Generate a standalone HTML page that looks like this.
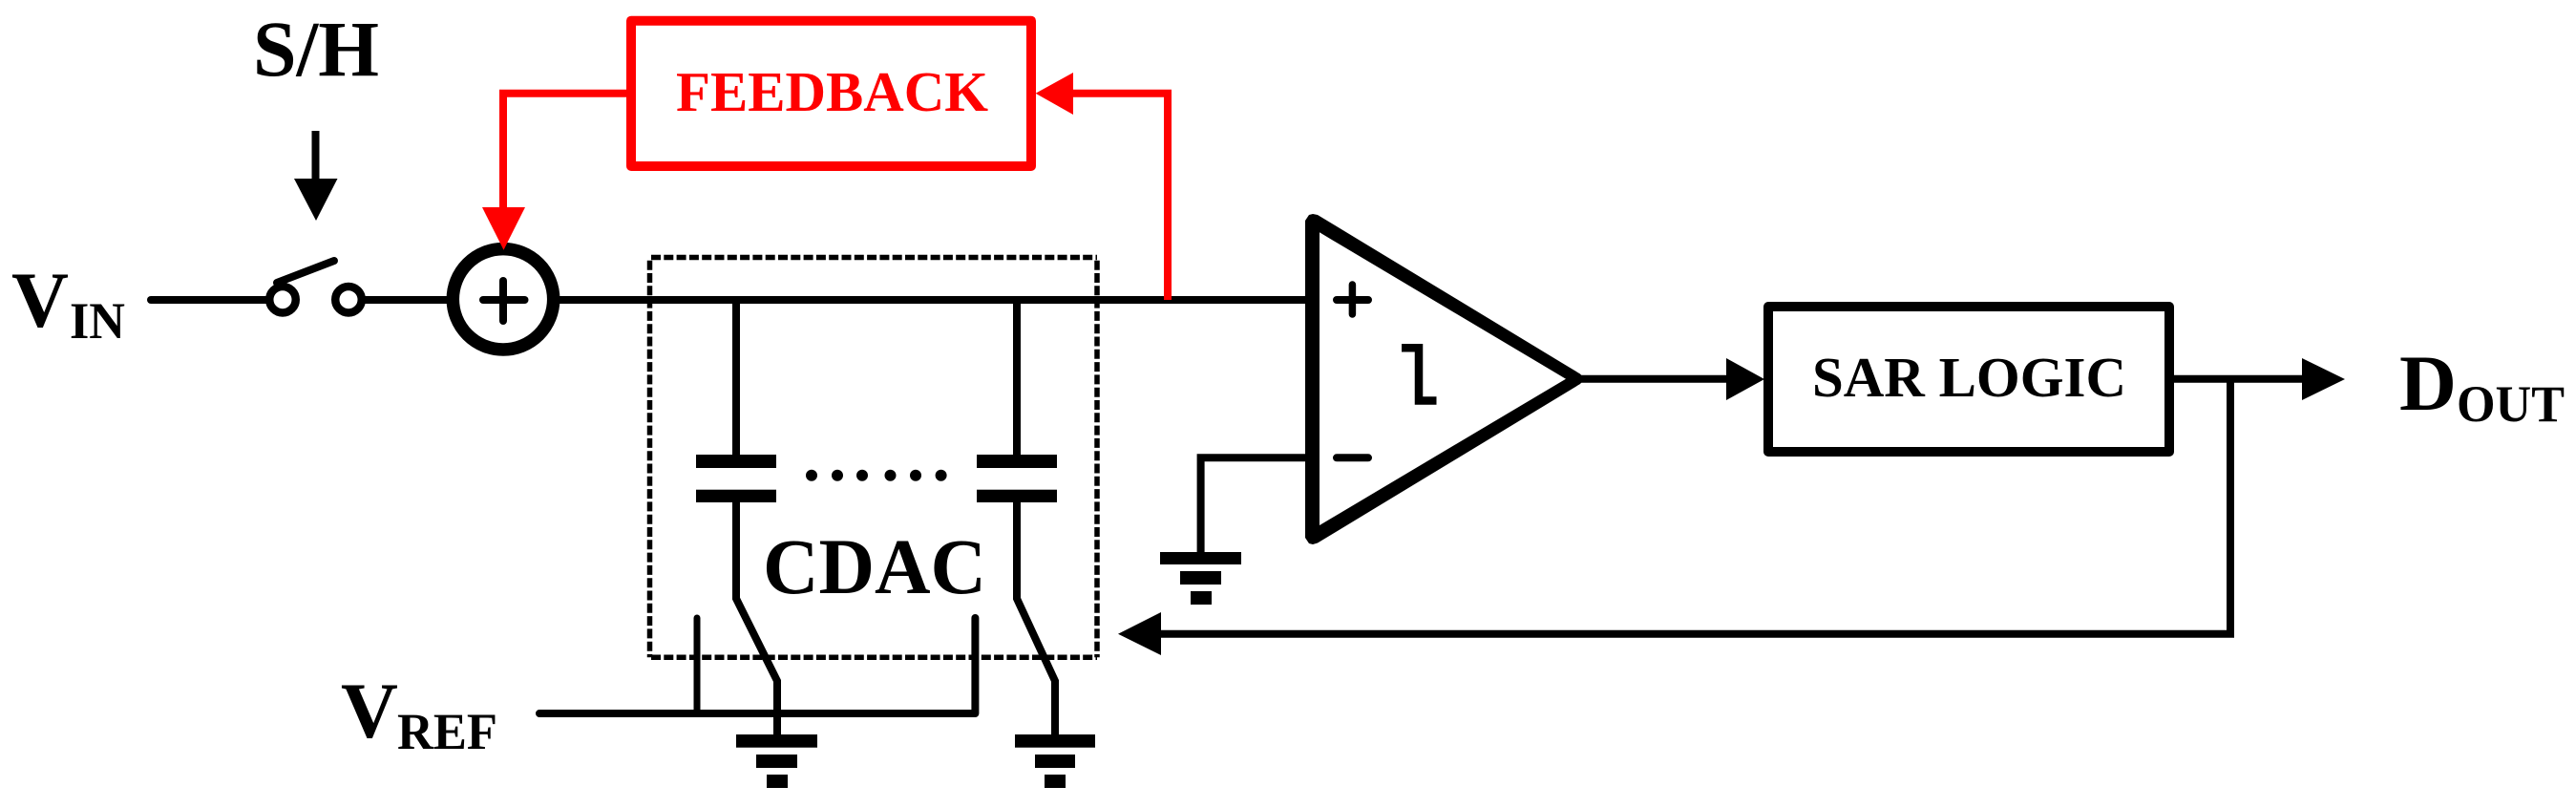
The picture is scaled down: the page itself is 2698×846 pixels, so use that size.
<!DOCTYPE html>
<html>
<head>
<meta charset="utf-8">
<style>
html,body{margin:0;padding:0;background:#fff;}
svg{display:block;}
text{font-family:"Liberation Serif",serif;font-weight:bold;}
</style>
</head>
<body>
<svg xmlns="http://www.w3.org/2000/svg" width="2698" height="846" viewBox="0 0 2698 846">
<rect width="2698" height="846" fill="#fff"/>

<!-- dotted CDAC box -->
<g stroke="#000" stroke-width="5.5" fill="none" stroke-dasharray="10 3.3">
<line x1="682" y1="269.5" x2="1149" y2="269.5"/>
<line x1="682" y1="688.3" x2="1149" y2="688.3"/>
<line x1="680.5" y1="272.7" x2="680.5" y2="688.3"/>
<line x1="1149" y1="272.7" x2="1149" y2="688.3"/>
</g>

<!-- main wires -->
<g stroke="#000" fill="none" stroke-width="8" stroke-linecap="round" stroke-linejoin="round">
<line x1="158" y1="314" x2="282" y2="314"/>
<line x1="375" y1="314" x2="470" y2="314"/>
<line x1="585" y1="314" x2="1372" y2="314"/>
<line x1="290" y1="296" x2="350" y2="273"/>
<line x1="330.5" y1="137" x2="330.5" y2="190" stroke-linecap="butt"/>
<!-- cap wires -->
<polyline points="771,314 771,476" stroke-linecap="butt"/>
<polyline points="1065,314 1065,476" stroke-linecap="butt"/>
<polyline points="771,526 771,626.7 814,713 814,769" stroke-linecap="butt" stroke-linejoin="miter"/>
<polyline points="1065,526 1065,626.7 1105,713 1105,769" stroke-linecap="butt" stroke-linejoin="miter"/>
<!-- VREF -->
<polyline points="565,747 1021.4,747 1021.4,647"/>
<line x1="730" y1="747" x2="730" y2="647" stroke-width="7"/>
<!-- comparator negative input to ground -->
<polyline points="1372,479.3 1257.6,479.3 1257.6,578" stroke-linecap="butt" stroke-linejoin="miter"/>
<!-- outputs -->
<line x1="1655" y1="396.7" x2="1810" y2="396.7" stroke-linecap="butt"/>
<line x1="2275" y1="396.7" x2="2413" y2="396.7" stroke-linecap="butt"/>
<polyline points="2336,397 2336,663.7 1214,663.7" stroke-linecap="butt" stroke-linejoin="miter"/>
<!-- plus in sum -->
<line x1="506" y1="314" x2="549.5" y2="314"/>
<line x1="527" y1="294" x2="527" y2="336"/>
</g>

<!-- switch terminals -->
<g stroke="#000" stroke-width="8.5" fill="#fff">
<circle cx="296" cy="313.7" r="13.75"/>
<circle cx="365" cy="313.7" r="13.75"/>
</g>

<!-- summing node -->
<circle cx="527" cy="313.3" r="52.7" fill="none" stroke="#000" stroke-width="13.5"/>

<!-- S/H arrowhead -->
<polygon points="308,187 353.5,187 331,231" fill="#000"/>

<!-- capacitor plates -->
<g fill="#000">
<rect x="729" y="476" width="84" height="14"/>
<rect x="729" y="512.7" width="84" height="13.3"/>
<rect x="1023" y="476" width="84" height="14"/>
<rect x="1023" y="512.7" width="84" height="13.3"/>
<!-- dots -->
<circle cx="850" cy="497.7" r="6"/>
<circle cx="877" cy="497.7" r="6"/>
<circle cx="903" cy="497.7" r="6"/>
<circle cx="932.5" cy="497.7" r="6"/>
<circle cx="959" cy="497.7" r="6"/>
<circle cx="985.6" cy="497.7" r="6"/>
<!-- grounds -->
<rect x="771" y="769" width="85" height="13.7"/>
<rect x="792" y="790" width="43" height="14"/>
<rect x="803" y="811" width="22" height="14"/>
<rect x="1063" y="769" width="84" height="13.7"/>
<rect x="1084" y="790" width="42" height="14"/>
<rect x="1094" y="811" width="22" height="14"/>
<rect x="1215" y="578" width="85" height="13"/>
<rect x="1236" y="598" width="43" height="14"/>
<rect x="1247" y="619" width="22" height="14"/>
</g>

<!-- comparator -->
<polygon points="1367,231 1371,225 1375,224 1380,225 1655,391.5 1660,396.7 1655,402 1380,568.5 1375,570 1371,569 1367,563" fill="#000"/>
<polygon points="1382,243.3 1640,396.7 1382,550" fill="#fff"/>
<g stroke="#000" fill="none" stroke-width="8" stroke-linecap="round">
<line x1="1400" y1="314" x2="1433" y2="314"/>
<line x1="1416.4" y1="298" x2="1416.4" y2="329" stroke-width="7.5"/>
<line x1="1400" y1="479.3" x2="1433" y2="479.3"/>
</g>
<polyline points="1468,364.2 1486,364.2 1486,419.5 1504.5,419.5" fill="none" stroke="#000" stroke-width="8.5"/>

<!-- arrowheads black -->
<g fill="#000">
<polygon points="1808,375 1848,397 1808,419"/>
<polygon points="2411,375 2456,397 2411,419"/>
<polygon points="1171,663.7 1216,641 1216,686"/>
</g>

<!-- SAR box -->
<rect x="1852" y="321" width="420" height="152" fill="#fff" stroke="#000" stroke-width="10" stroke-linejoin="round"/>

<!-- feedback -->
<g stroke="#f00" fill="none" stroke-width="8" stroke-linejoin="miter">
<rect x="661" y="21.7" width="419" height="152.3" stroke-width="10" stroke-linejoin="round" fill="#fff"/>
<polyline points="656,97.7 527,97.7 527,220"/>
<polyline points="1120,97.7 1223,97.7 1223,314"/>
</g>
<polygon points="505,217 550,217 527.5,261.7" fill="#f00"/>
<polygon points="1084.6,97.7 1124,76 1124,120" fill="#f00"/>

<!-- labels -->
<text x="265" y="79" font-size="83" textLength="132" lengthAdjust="spacingAndGlyphs">S/H</text>
<text x="708" y="116" font-size="59" fill="#f00" textLength="327" lengthAdjust="spacingAndGlyphs">FEEDBACK</text>
<text x="1898" y="415" font-size="59" textLength="329" lengthAdjust="spacingAndGlyphs">SAR LOGIC</text>
<text x="799" y="621" font-size="83" textLength="234" lengthAdjust="spacingAndGlyphs">CDAC</text>
<text x="12" y="342" font-size="83">V</text>
<text x="73" y="354" font-size="54" textLength="58" lengthAdjust="spacingAndGlyphs">IN</text>
<text x="357" y="772" font-size="83">V</text>
<text x="416" y="784" font-size="54" textLength="105" lengthAdjust="spacingAndGlyphs">REF</text>
<text x="2513" y="429" font-size="83">D</text>
<text x="2573" y="441" font-size="54" textLength="113" lengthAdjust="spacingAndGlyphs">OUT</text>
</svg>
</body>
</html>
